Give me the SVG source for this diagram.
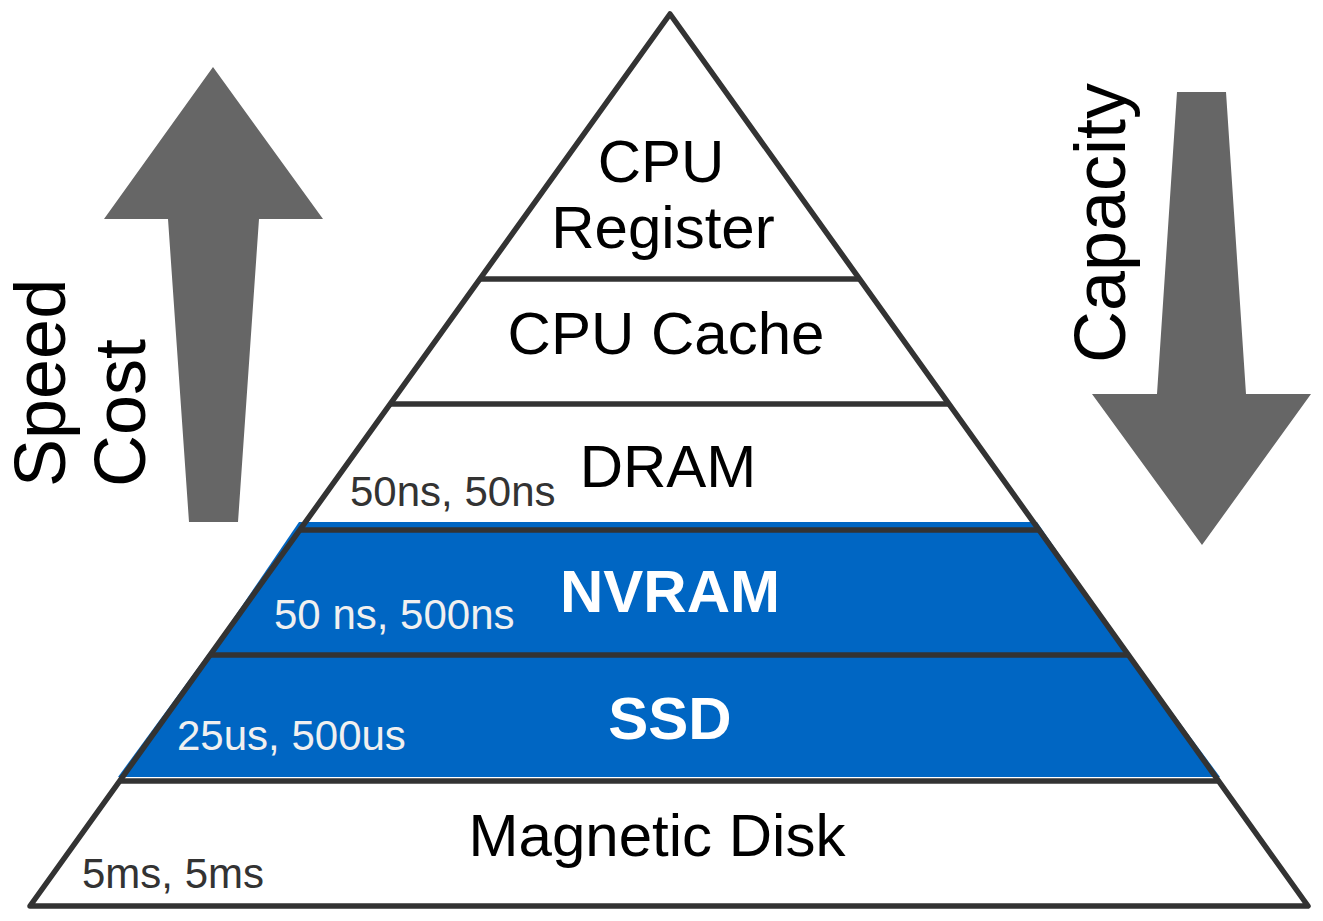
<svg xmlns="http://www.w3.org/2000/svg" width="1323" height="921" viewBox="0 0 1323 921">
<style>
text{font-family:"Liberation Sans",Arial,sans-serif;}
.big{font-size:60px;fill:#000;text-anchor:middle;}
.bold{font-size:60px;font-weight:bold;fill:#fff;text-anchor:middle;}
.lat{font-size:42px;fill:#333;}
.latw{font-size:42px;fill:#f0f0f0;}
.axis{font-size:72px;fill:#000;}
.edge{fill:none;stroke:#333;stroke-width:5.5;stroke-linejoin:round;stroke-linecap:butt;}
.blue{fill:#0066c3;}
.arrow{fill:#666;}
</style>
<rect width="1323" height="921" fill="#fff"/>
<g id="nvram">
<polygon class="blue" points="299,522 1037,522 1129,656 208,656"/>
<text class="bold" x="670" y="612">NVRAM</text>
<text class="latw" x="274" y="629">50 ns, 500ns</text>
</g>
<g id="ssd">
<polygon class="blue" points="208,654 1129,654 1220,777 118,777"/>
<text class="bold" x="670" y="739">SSD</text>
<text class="latw" x="177" y="750">25us, 500us</text>
</g>
<g id="cpu-register">
<text class="big" x="661" y="182">CPU</text>
<text class="big" x="663" y="248">Register</text>
</g>
<g id="cpu-cache">
<text class="big" x="666" y="354">CPU Cache</text>
</g>
<g id="dram">
<text class="big" x="668" y="487">DRAM</text>
<text class="lat" x="350" y="506">50ns, 50ns</text>
</g>
<g id="magnetic-disk">
<text class="big" x="657" y="856">Magnetic Disk</text>
<text class="lat" x="82" y="888">5ms, 5ms</text>
</g>
<g id="connectors">
<polygon class="edge" points="670,14 1308,906 30,906"/>
<line class="edge" x1="479" y1="279" x2="860" y2="279"/>
<line class="edge" x1="390" y1="404" x2="949" y2="404"/>
<line class="edge" x1="300" y1="530" x2="1039" y2="530"/>
<line class="edge" x1="210" y1="655" x2="1129" y2="655"/>
<line class="edge" x1="120" y1="781" x2="1219" y2="781"/>
</g>
<g id="speed-cost">
<polygon class="arrow" points="213,67 323,219 259,219 238,522 189,522 168,219 104,219"/>
<text class="axis" transform="translate(65,487) rotate(-90)">Speed</text>
<text class="axis" transform="translate(145,487) rotate(-90)">Cost</text>
</g>
<g id="capacity">
<polygon class="arrow" points="1177,92 1226,92 1246,394 1311,394 1202,545 1092,394 1157,394"/>
<text class="axis" transform="translate(1125,363) rotate(-90)">Capacity</text>
</g>
</svg>
